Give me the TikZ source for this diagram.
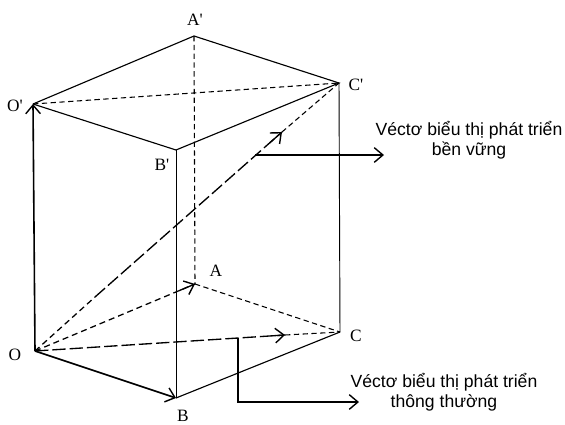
\documentclass[tikz,border=0pt]{standalone}
\usepackage{fontspec}
\setmainfont{Liberation Serif}
\newfontfamily\capfont{Liberation Sans}
\usetikzlibrary{arrows.meta,calc}
\tikzset{
  edge/.style={line width=0.85pt,black},
  thinedge/.style={line width=0.7pt,black},
  hidden/.style={line width=0.8pt,black,dash pattern=on 4pt off 2.6pt},
  shortdash/.style={line width=0.95pt,black,dash pattern=on 4.5pt off 3pt},
  longdash/.style={line width=1pt,black,dash pattern=on 10pt off 3pt},
  vec/.style={line width=1.2pt,black},
  tip/.style={-{Straight Barb[length=6.5pt,width=11pt,line width=1.05pt]}},
  vertexlabel/.style={font=\fontsize{13}{13}\selectfont,inner sep=0pt},
  caption/.style={font=\capfont\fontsize{13.2}{15}\selectfont,align=center,inner sep=0pt}
}
\begin{document}
\begin{tikzpicture}[x=0.75pt,y=-0.75pt]
\useasboundingbox (0,0) rectangle (565,425);
\coordinate (O) at (35,351);
\coordinate (Op) at (33,104);
\coordinate (Ap) at (194,36);
\coordinate (Cp) at (339,83);
\coordinate (Bp) at (176,150);
\coordinate (B) at (176,398);
\coordinate (C) at (340,332);
\coordinate (A) at (195,284);
\coordinate (mid1) at (255,155);
\coordinate (end1) at (384,155);
\coordinate (mid2) at (238,338);
\coordinate (bend2) at (238,402);
\coordinate (end2) at (359,402);
\coordinate (tipOC) at (285,335);
\coordinate (tipOCp) at (282,132);
\coordinate (splitOCp) at (95,297);
% top face
\draw[edge] (Op) -- (Ap) -- (Cp) -- (Bp) -- (Op);
% visible verticals and base
\draw[thinedge] (Bp) -- (B);
\draw[thinedge] (Cp) -- (C);
\draw[edge] (B) -- (C);
% hidden edges
\draw[hidden] (Ap) -- (A);
\draw[hidden] (Op) -- (Cp);
\draw[hidden] (A) -- (C);
\draw[hidden] (tipOC) -- (C);
\draw[hidden] (tipOCp) -- (Cp);
% vectors
\draw[vec,tip] (O) -- (Op);
\draw[vec,tip] (O) -- (B);
\draw[shortdash] (O) -- (splitOCp);
\draw[longdash] (splitOCp) -- (tipOCp);
\draw[longdash] (O) -- (tipOC);
\draw[shortdash] (O) -- (A);
% solid ends carrying the arrowheads of the dashed vectors
\draw[line width=1pt,tip] ($(O)!0.95!(tipOCp)$) -- (tipOCp);
\draw[line width=1pt,tip] ($(O)!0.95!(tipOC)$) -- (tipOC);
\draw[line width=1pt,tip] ($(O)!0.9!(A)$) -- (A);
% callouts
\draw[vec,tip] (mid1) -- (end1);
\draw[vec,tip] (mid2) -- (bend2) -- (end2);
% vertex labels
\node[vertexlabel] (lAp) at (195,20) {A\textquotesingle};
\node[vertexlabel] (lOp) at (15,106) {O\textquotesingle};
\node[vertexlabel] (lCp) at (356,85) {C\textquotesingle};
\node[vertexlabel] (lBp) at (162,165) {B\textquotesingle};
\node[vertexlabel] (lA) at (216,271) {A};
\node[vertexlabel] (lO) at (15,355) {O};
\node[vertexlabel] (lC) at (356,336) {C};
\node[vertexlabel] (lB) at (183,416) {B};
% captions
\node[caption] (cap1) at (469,140) {Véctơ biểu thị phát triển\\bền vững};
\node[caption] (cap2) at (444,392) {Véctơ biểu thị phát triển\\thông thường};
\end{tikzpicture}
\end{document}
